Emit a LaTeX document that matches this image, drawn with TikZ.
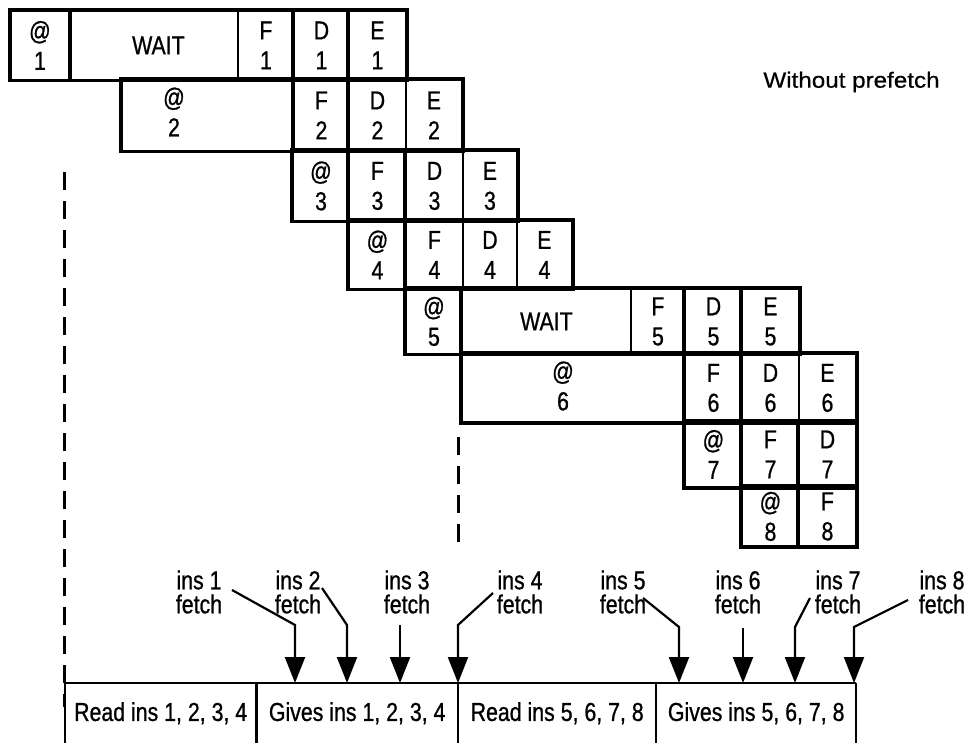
\documentclass[tikz,border=0pt]{standalone}
\usepackage{fontspec}
\setmainfont{Liberation Sans}
\newfontfamily\diagfont{Liberation Sans}[FakeStretch=0.82,FakeBold=0.8]
\newfontfamily\wideface{Liberation Sans}[FakeStretch=1.1,FakeBold=0.5]
\usetikzlibrary{arrows.meta}

% one pipeline cell: name, left x, right x, top y, bottom y, text
\newcommand{\pcell}[6]{%
  \node[cell, minimum width={(#3-#2)*1pt}, minimum height={(#5-#4)*1pt}] (#1) at (#2,#4) {#6};}

\begin{document}
\begin{tikzpicture}[x=1pt,y=-1pt,
  cell/.style={draw, line width=1.9pt, inner sep=0pt, anchor=north west,
    align=center, font=\diagfont\fontsize{26}{30}\selectfont},
  celltext/.style={inner sep=0pt, align=center, font=\diagfont\fontsize{26}{30}\selectfont},
  rowframe/.style={line width=3.2pt, line join=miter},
  strongdiv/.style={line width=3.2pt},
  busbox/.style={inner sep=0pt, anchor=north west, minimum height=60pt,
    font=\diagfont\fontsize{26}{29}\selectfont},
  busline/.style={line width=1.9pt},
  busdiv/.style={line width=3pt},
  fetchlabel/.style={inner sep=0pt, align=center, font=\diagfont\fontsize{26}{24}\selectfont},
  fetcharrow/.style={line width=2.2pt, line join=miter, -{Triangle[width=20pt,length=26pt]}},
  timeline/.style={line width=3pt, dash pattern=on 18pt off 11pt},
  heading/.style={inner sep=0pt, font=\wideface\fontsize{22}{24}\selectfont}
]
\useasboundingbox (0,0) rectangle (967,743);

% ---- instruction 1
\pcell{a1}{10}{68}{10}{79}{@\\1}
\pcell{w1}{68}{237}{10}{79}{\hspace*{10pt}WAIT}
\pcell{f1}{237}{293}{10}{79}{F\\1}
\pcell{d1}{293}{348}{10}{79}{D\\1}
\pcell{e1}{348}{405}{10}{79}{E\\1}
\draw[rowframe] (a1.north west) rectangle (e1.south east);
\draw[strongdiv] (a1.north east) -- (a1.south east);
\draw[strongdiv] (d1.north west) -- (d1.south west);
\draw[strongdiv] (e1.north west) -- (e1.south west);

% ---- instruction 2
\pcell{a2}{121}{293}{79}{150}{}
\node[celltext] (a2t) at (174,112) {@\\2};
\pcell{f2}{293}{348}{79}{150}{F\\2}
\pcell{d2}{348}{405}{79}{150}{D\\2}
\pcell{e2}{405}{461}{79}{150}{E\\2}
\draw[rowframe] (a2.north west) rectangle (e2.south east);
\draw[strongdiv] (f2.north west) -- (f2.south west);
\draw[strongdiv] (d2.north west) -- (d2.south west);

% ---- instruction 3
\pcell{a3}{292}{348}{150}{220}{@\\3}
\pcell{f3}{348}{405}{150}{220}{F\\3}
\pcell{d3}{405}{462}{150}{220}{D\\3}
\pcell{e3}{462}{516}{150}{220}{E\\3}
\draw[rowframe] (a3.north west) rectangle (e3.south east);
\draw[strongdiv] (f3.north west) -- (f3.south west);
\draw[strongdiv] (d3.north west) -- (d3.south west);

% ---- instruction 4
\pcell{a4}{348}{405}{220}{288}{@\\4}
\pcell{f4}{405}{462}{220}{288}{F\\4}
\pcell{d4}{462}{516}{220}{288}{D\\4}
\pcell{e4}{516}{571}{220}{288}{E\\4}
\draw[rowframe] (a4.north west) rectangle (e4.south east);
\draw[strongdiv] (f4.north west) -- (f4.south west);

% ---- instruction 5
\pcell{a5}{405}{461}{288}{353}{@\\5}
\pcell{w5}{461}{630}{288}{353}{WAIT}
\pcell{f5}{630}{684}{288}{353}{F\\5}
\pcell{d5}{684}{741}{288}{353}{D\\5}
\pcell{e5}{741}{798}{288}{353}{E\\5}
\draw[rowframe] (a5.north west) rectangle (e5.south east);
\draw[strongdiv] (w5.north west) -- (w5.south west);
\draw[strongdiv] (d5.north west) -- (d5.south west);
\draw[strongdiv] (e5.north west) -- (e5.south west);

% ---- instruction 6
\pcell{a6}{461}{684}{353}{421}{}
\node[celltext] (a6t) at (563,386) {@\\6};
\pcell{f6}{684}{741}{353}{421}{F\\6}
\pcell{d6}{741}{798}{353}{421}{D\\6}
\pcell{e6}{798}{855}{353}{421}{E\\6}
\draw[rowframe] (a6.north west) rectangle (e6.south east);
\draw[strongdiv] (f6.north west) -- (f6.south west);
\draw[strongdiv] (d6.north west) -- (d6.south west);

% ---- instruction 7
\pcell{a7}{684}{741}{421}{486}{@\\7}
\pcell{f7}{741}{798}{421}{486}{F\\7}
\pcell{d7}{798}{855}{421}{486}{D\\7}
\draw[rowframe] (a7.north west) rectangle (d7.south east);
\draw[strongdiv] (f7.north west) -- (f7.south west);
\draw[strongdiv] (d7.north west) -- (d7.south west);

% ---- instruction 8
\pcell{a8}{741}{798}{486}{545}{@\\8}
\pcell{f8}{798}{855}{486}{545}{F\\8}
\draw[rowframe] (a8.north west) rectangle (f8.south east);
\draw[strongdiv] (f8.north west) -- (f8.south west);

\node[heading] (title) at (851.5,82) {Without prefetch};

% ---- time markers
\coordinate (dA) at (64,172);
\coordinate (dB) at (64,707);
\coordinate (dC) at (458,437);
\coordinate (dD) at (458,546);
\draw[timeline] (dA) -- (dB);
\draw[timeline] (dC) -- (dD);

% ---- prefetch buffer phases
\node[busbox, minimum width=191pt] (b1) at (65,683)  {Read ins 1, 2, 3, 4};
\node[busbox, minimum width=202pt] (b2) at (256,683) {Gives ins 1, 2, 3, 4};
\node[busbox, minimum width=198pt] (b3) at (458,683) {Read ins 5, 6, 7, 8};
\node[busbox, minimum width=200pt] (b4) at (656,683) {Gives ins 5, 6, 7, 8};
\draw[busline] (b1.north west) -- (b4.north east);
\draw[busline] (b1.north west) -- (b1.south west);
\draw[busdiv]  (b1.north east) -- (b1.south east);
\draw[busline] (b2.north east) -- (b2.south east);
\draw[busline] (b3.north east) -- (b3.south east);
\draw[busline] (b4.north east) -- (b4.south east);

% ---- fetch requests
\node[fetchlabel] (l1) at (199,592) {ins 1\\fetch};
\node[fetchlabel] (l2) at (298,592) {ins 2\\fetch};
\node[fetchlabel] (l3) at (407,592) {ins 3\\fetch};
\node[fetchlabel] (l4) at (520,592) {ins 4\\fetch};
\node[fetchlabel] (l5) at (623,592) {ins 5\\fetch};
\node[fetchlabel] (l6) at (738,592) {ins 6\\fetch};
\node[fetchlabel] (l7) at (838,592) {ins 7\\fetch};
\node[fetchlabel] (l8) at (942,592) {ins 8\\fetch};

\coordinate (s1) at (232,590);  \coordinate (k1) at (295,625);  \coordinate (t1) at (295,683);
\coordinate (s2) at (322,588);  \coordinate (k2) at (347,625);  \coordinate (t2) at (347,683);
\coordinate (k3) at (400,625);  \coordinate (t3) at (400,683);
\coordinate (s4) at (493,593);  \coordinate (k4) at (458,625);  \coordinate (t4) at (458,683);
\coordinate (s5) at (643,598);  \coordinate (k5) at (679,627);  \coordinate (t5) at (679,683);
\coordinate (k6) at (743,628);  \coordinate (t6) at (743,683);
\coordinate (s7) at (810,598);  \coordinate (k7) at (795,627);  \coordinate (t7) at (795,683);
\coordinate (s8) at (908,600);  \coordinate (k8) at (854,627);  \coordinate (t8) at (854,683);

\draw[fetcharrow] (s1) -- (k1) -- (t1);
\draw[fetcharrow] (s2) -- (k2) -- (t2);
\draw[fetcharrow] (k3) -- (t3);
\draw[fetcharrow] (s4) -- (k4) -- (t4);
\draw[fetcharrow] (s5) -- (k5) -- (t5);
\draw[fetcharrow] (k6) -- (t6);
\draw[fetcharrow] (s7) -- (k7) -- (t7);
\draw[fetcharrow] (s8) -- (k8) -- (t8);
\end{tikzpicture}
\end{document}
